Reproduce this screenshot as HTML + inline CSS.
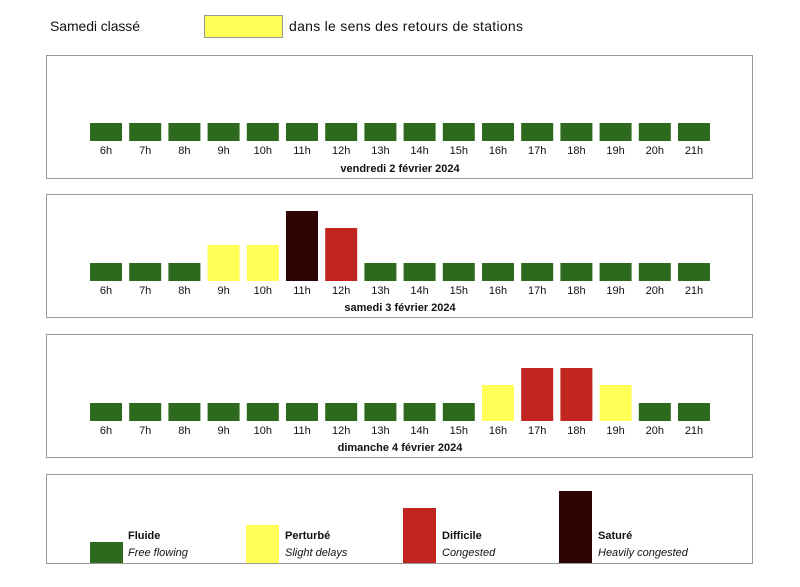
<!DOCTYPE html>
<html><head><meta charset="utf-8"><style>
body{margin:0;background:#fff;}
svg{display:block;font-family:"Liberation Sans",sans-serif;}
</style></head><body>
<svg width="800" height="587" viewBox="0 0 800 587" xmlns="http://www.w3.org/2000/svg">
<defs>
<g id="lbl" font-size="11" text-anchor="middle" fill="#111">
<text x="106" y="0">6h</text><text x="145.2" y="0">7h</text><text x="184.4" y="0">8h</text><text x="223.6" y="0">9h</text><text x="262.8" y="0">10h</text><text x="302" y="0">11h</text><text x="341.2" y="0">12h</text><text x="380.4" y="0">13h</text><text x="419.6" y="0">14h</text><text x="458.8" y="0">15h</text><text x="498" y="0">16h</text><text x="537.2" y="0">17h</text><text x="576.4" y="0">18h</text><text x="615.6" y="0">19h</text><text x="654.8" y="0">20h</text><text x="694" y="0">21h</text>
</g>
</defs>
<text x="50" y="31" font-size="14" fill="#111" textLength="90">Samedi classé</text>
<rect x="204.5" y="15.5" width="78" height="22" fill="#ffff55" stroke="#999" stroke-width="1"/>
<text x="289" y="31" font-size="14" fill="#111" textLength="234">dans le sens des retours de stations</text>

<!-- panel 1 -->
<rect x="46.5" y="55.5" width="706" height="123" fill="#fff" stroke="#999"/>
<g fill="#2d6a1e">
<rect x="90" y="123" width="32" height="18"/><rect x="129.2" y="123" width="32" height="18"/><rect x="168.4" y="123" width="32" height="18"/><rect x="207.6" y="123" width="32" height="18"/><rect x="246.8" y="123" width="32" height="18"/><rect x="286" y="123" width="32" height="18"/><rect x="325.2" y="123" width="32" height="18"/><rect x="364.4" y="123" width="32" height="18"/><rect x="403.6" y="123" width="32" height="18"/><rect x="442.8" y="123" width="32" height="18"/><rect x="482" y="123" width="32" height="18"/><rect x="521.2" y="123" width="32" height="18"/><rect x="560.4" y="123" width="32" height="18"/><rect x="599.6" y="123" width="32" height="18"/><rect x="638.8" y="123" width="32" height="18"/><rect x="678" y="123" width="32" height="18"/>
</g>
<use href="#lbl" y="154"/>
<text x="400" y="172" font-size="11" font-weight="bold" text-anchor="middle" fill="#111">vendredi 2 février 2024</text>

<!-- panel 2 -->
<rect x="46.5" y="194.5" width="706" height="123" fill="#fff" stroke="#999"/>
<g fill="#2d6a1e">
<rect x="90" y="263" width="32" height="18"/><rect x="129.2" y="263" width="32" height="18"/><rect x="168.4" y="263" width="32" height="18"/><rect x="364.4" y="263" width="32" height="18"/><rect x="403.6" y="263" width="32" height="18"/><rect x="442.8" y="263" width="32" height="18"/><rect x="482" y="263" width="32" height="18"/><rect x="521.2" y="263" width="32" height="18"/><rect x="560.4" y="263" width="32" height="18"/><rect x="599.6" y="263" width="32" height="18"/><rect x="638.8" y="263" width="32" height="18"/><rect x="678" y="263" width="32" height="18"/>
</g>
<rect x="207.6" y="245" width="32" height="36" fill="#ffff55"/><rect x="246.8" y="245" width="32" height="36" fill="#ffff55"/>
<rect x="286" y="211" width="32" height="70" fill="#2e0303"/>
<rect x="325.2" y="228" width="32" height="53" fill="#c0261f"/>
<use href="#lbl" y="294"/>
<text x="400" y="311" font-size="11" font-weight="bold" text-anchor="middle" fill="#111">samedi 3 février 2024</text>

<!-- panel 3 -->
<rect x="46.5" y="334.5" width="706" height="123" fill="#fff" stroke="#999"/>
<g fill="#2d6a1e">
<rect x="90" y="403" width="32" height="18"/><rect x="129.2" y="403" width="32" height="18"/><rect x="168.4" y="403" width="32" height="18"/><rect x="207.6" y="403" width="32" height="18"/><rect x="246.8" y="403" width="32" height="18"/><rect x="286" y="403" width="32" height="18"/><rect x="325.2" y="403" width="32" height="18"/><rect x="364.4" y="403" width="32" height="18"/><rect x="403.6" y="403" width="32" height="18"/><rect x="442.8" y="403" width="32" height="18"/><rect x="638.8" y="403" width="32" height="18"/><rect x="678" y="403" width="32" height="18"/>
</g>
<rect x="482" y="385" width="32" height="36" fill="#ffff55"/><rect x="599.6" y="385" width="32" height="36" fill="#ffff55"/>
<rect x="521.2" y="368" width="32" height="53" fill="#c0261f"/><rect x="560.4" y="368" width="32" height="53" fill="#c0261f"/>
<use href="#lbl" y="434"/>
<text x="400" y="451" font-size="11" font-weight="bold" text-anchor="middle" fill="#111">dimanche 4 février 2024</text>

<!-- legend -->
<rect x="46.5" y="474.5" width="706" height="89" fill="#fff" stroke="#999"/>
<rect x="90" y="542" width="33" height="21" fill="#2d6a1e"/>
<rect x="246" y="525" width="33" height="38" fill="#ffff55"/>
<rect x="403" y="508" width="33" height="55" fill="#c0261f"/>
<rect x="559" y="491" width="33" height="72" fill="#2e0303"/>
<g font-size="11" fill="#111">
<text x="128" y="539" font-weight="bold">Fluide</text><text x="128" y="556" font-style="italic">Free flowing</text>
<text x="285" y="539" font-weight="bold">Perturbé</text><text x="285" y="556" font-style="italic">Slight delays</text>
<text x="442" y="539" font-weight="bold">Difficile</text><text x="442" y="556" font-style="italic">Congested</text>
<text x="598" y="539" font-weight="bold">Saturé</text><text x="598" y="556" font-style="italic">Heavily congested</text>
</g>
</svg>
</body></html>
